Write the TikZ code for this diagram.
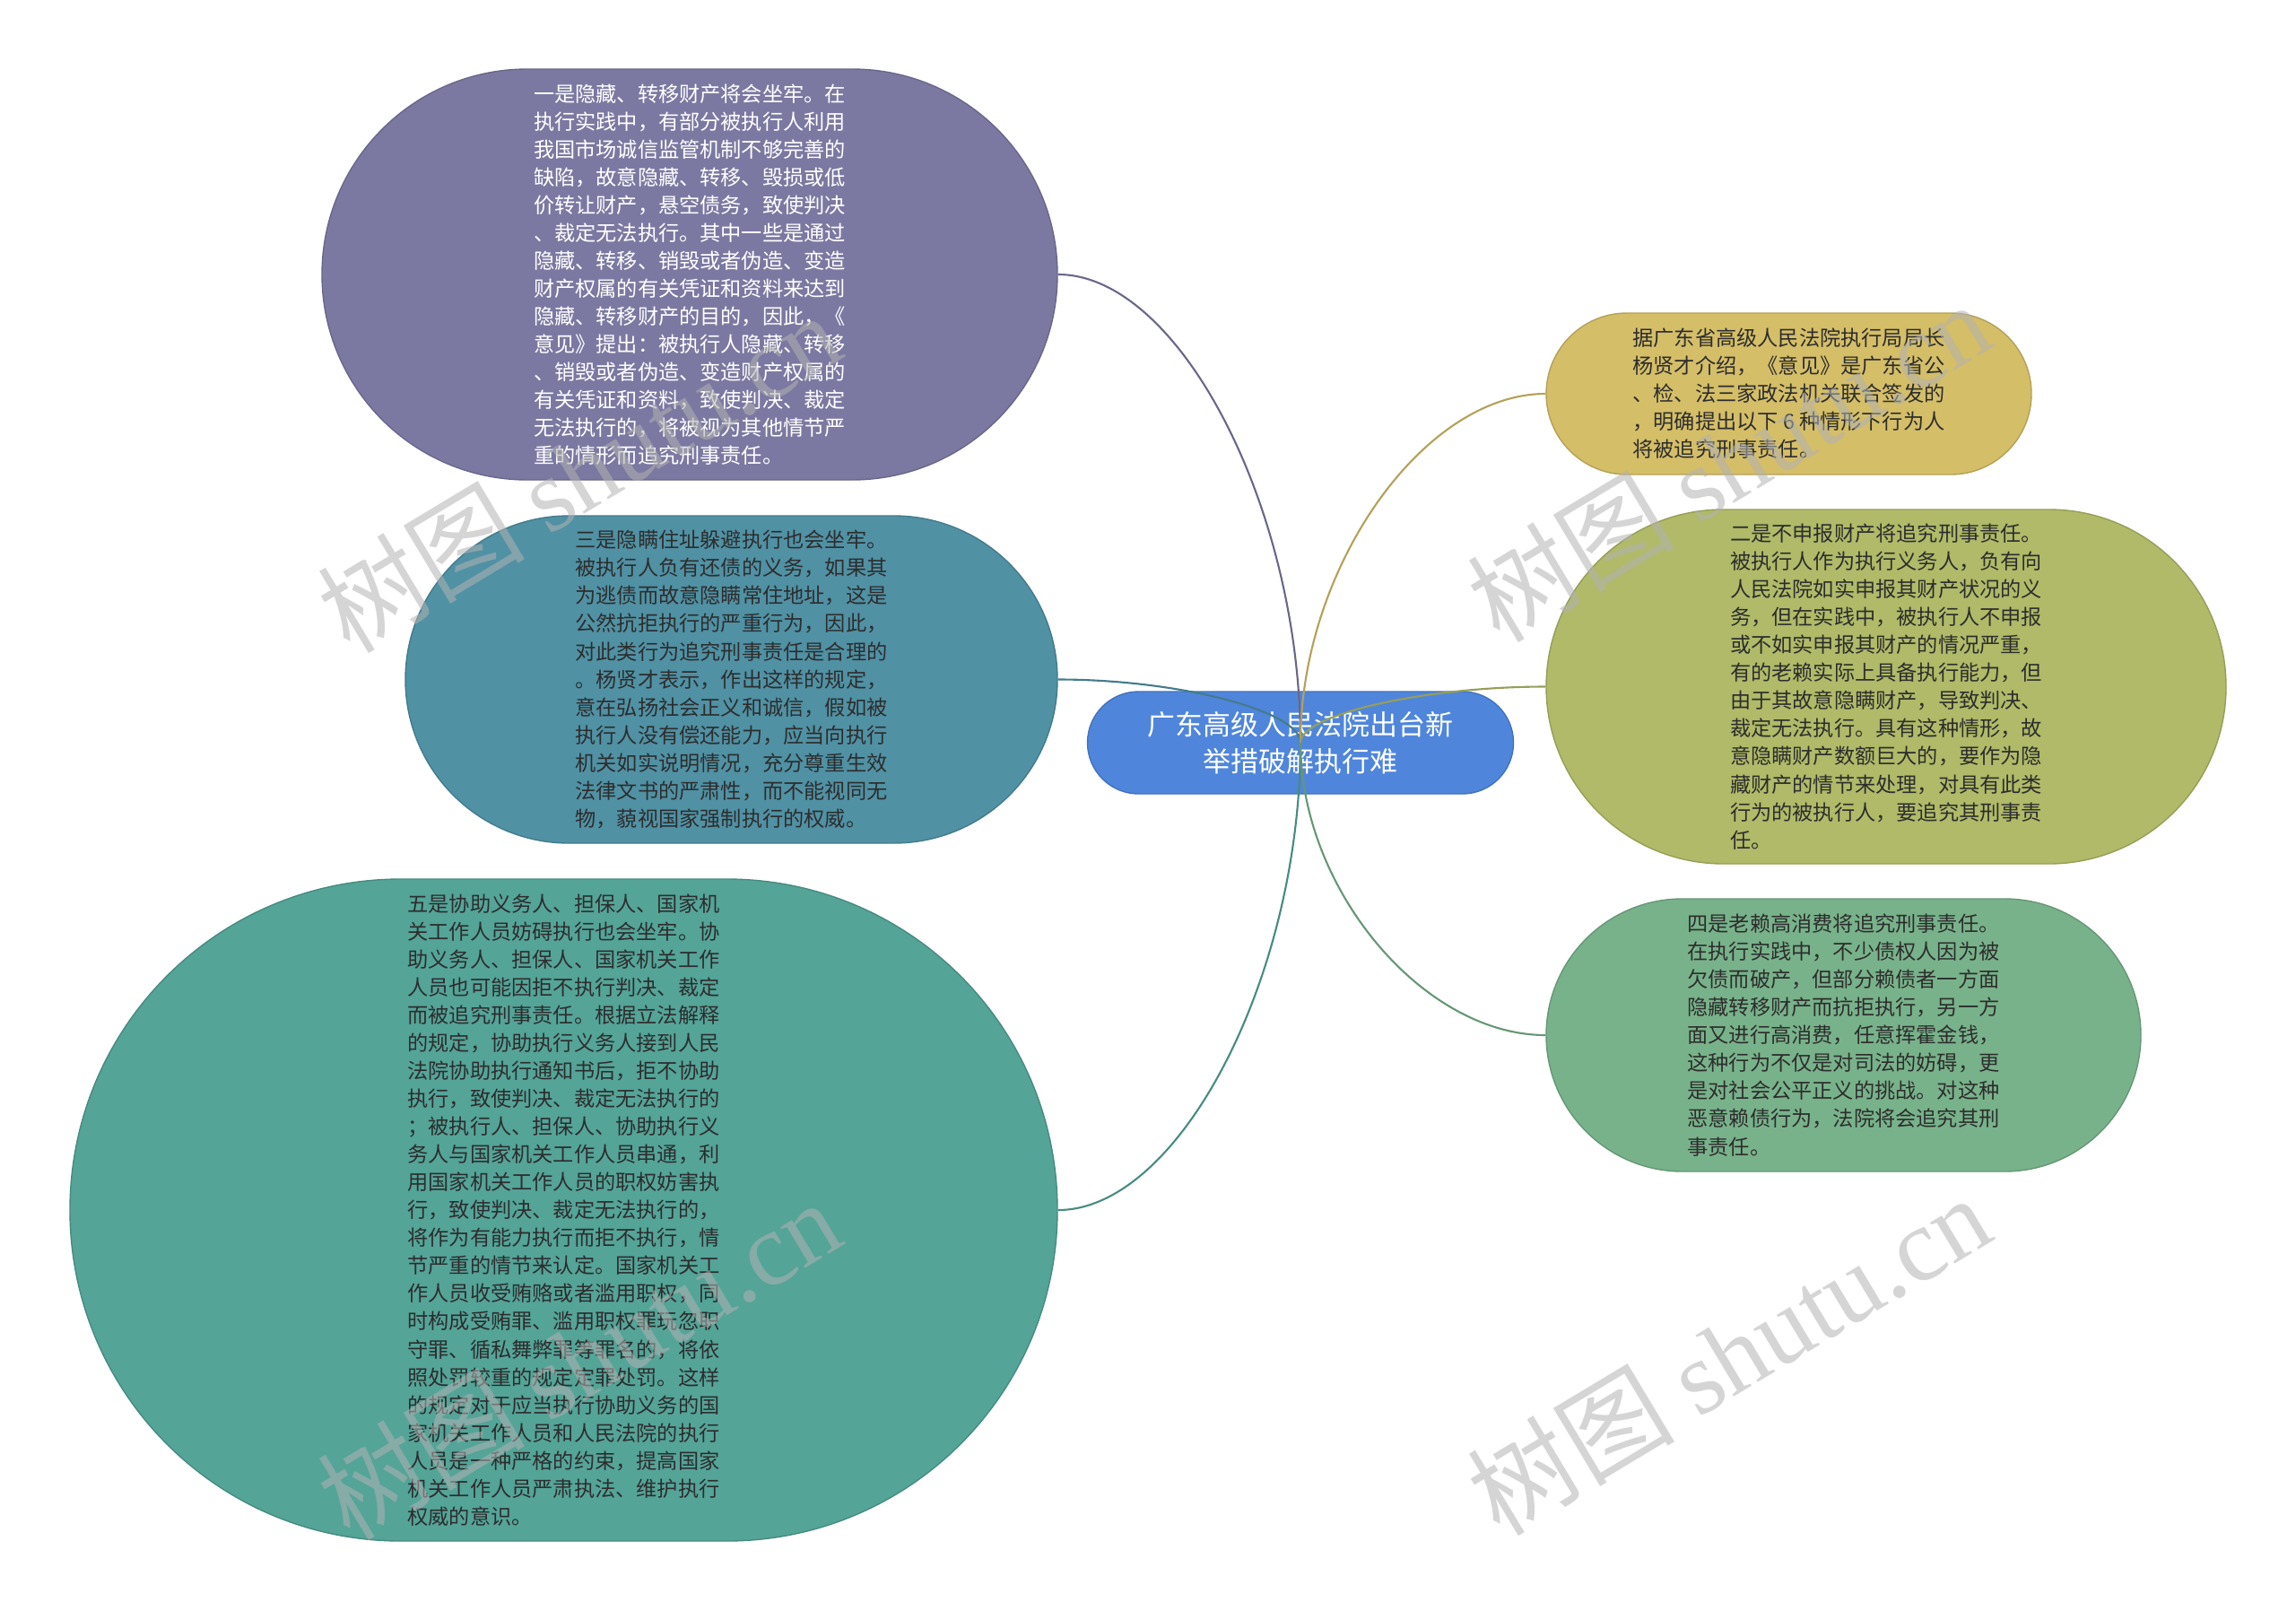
\documentclass[tikz,border=0pt]{standalone}
\usepackage{fontspec}
\setmainfont{Noto Sans CJK SC}
\newfontfamily\markfont{Liberation Serif}
\usetikzlibrary{
  shapes.misc,
  calc}
\definecolor{topiccolor}{RGB}{79,134,219}
\definecolor{introcolor}{RGB}{212,190,104}
\definecolor{onecolor}{RGB}{123,121,161}
\definecolor{twocolor}{RGB}{176,186,104}
\definecolor{threecolor}{RGB}{80,145,164}
\definecolor{fourcolor}{RGB}{120,178,138}
\definecolor{fivecolor}{RGB}{84,164,152}
\definecolor{darktext}{RGB}{45,45,45}
\tikzset{
  %% topic : the central topic
  topic/.style={
    rounded rectangle,
    fill=topiccolor,
    draw=topiccolor!85!black,
    text=white,
    font=\fontsize{8.8pt}{11.6pt}\selectfont,
    inner sep=0pt,
    align=center
  },
  %% subtopic : one bubble of text round the topic
  subtopic/.style={
    rounded rectangle,
    fill=#1,
    draw=#1!85!black,
    text=darktext,
    font=\fontsize{6.6pt}{8.83pt}\selectfont,
    inner sep=0pt,
    align=left
  },
  %% branch : curve from the topic to a subtopic
  branch/.style={#1!85!black, line width=0.6pt},
  %% watermark : the grey site mark
  watermark/.style={
    rotate=31,
    text=black!30,
    text opacity=0.55,
    font=\fontsize{33pt}{36pt}\selectfont
  }
}

\begin{document}
\begin{tikzpicture}
  [x=1cm,
  y=-1cm]

  \useasboundingbox (0, 0) rectangle (25.6, 17.95);

  %% Left side
  \node (point1) [subtopic=onecolor, text=white, minimum width=8.2cm,
  minimum height=4.58cm] at (7.69, 3.06) {%
    一是隐藏、转移财产将会坐牢。在\\
    执行实践中，有部分被执行人利用\\
    我国市场诚信监管机制不够完善的\\
    缺陷，故意隐藏、转移、毁损或低\\
    价转让财产，悬空债务，致使判决\\
    、裁定无法执行。其中一些是通过\\
    隐藏、转移、销毁或者伪造、变造\\
    财产权属的有关凭证和资料来达到\\
    隐藏、转移财产的目的，因此，《\\
    意见》提出：被执行人隐藏、转移\\
    、销毁或者伪造、变造财产权属的\\
    有关凭证和资料，致使判决、裁定\\
    无法执行的，将被视为其他情节严\\
    重的情形而追究刑事责任。
  };

  \node (point3) [subtopic=threecolor, minimum width=7.27cm,
  minimum height=3.65cm] at (8.155, 7.575) {%
    三是隐瞒住址躲避执行也会坐牢。\\
    被执行人负有还债的义务，如果其\\
    为逃债而故意隐瞒常住地址，这是\\
    公然抗拒执行的严重行为，因此，\\
    对此类行为追究刑事责任是合理的\\
    。杨贤才表示，作出这样的规定，\\
    意在弘扬社会正义和诚信，假如被\\
    执行人没有偿还能力，应当向执行\\
    机关如实说明情况，充分尊重生效\\
    法律文书的严肃性，而不能视同无\\
    物，藐视国家强制执行的权威。
  };

  \node (point5) [subtopic=fivecolor, minimum width=11.01cm,
  minimum height=7.38cm] at (6.285, 13.49) {%
    五是协助义务人、担保人、国家机\\
    关工作人员妨碍执行也会坐牢。协\\
    助义务人、担保人、国家机关工作\\
    人员也可能因拒不执行判决、裁定\\
    而被追究刑事责任。根据立法解释\\
    的规定，协助执行义务人接到人民\\
    法院协助执行通知书后，拒不协助\\
    执行，致使判决、裁定无法执行的\\
    ；被执行人、担保人、协助执行义\\
    务人与国家机关工作人员串通，利\\
    用国家机关工作人员的职权妨害执\\
    行，致使判决、裁定无法执行的，\\
    将作为有能力执行而拒不执行，情\\
    节严重的情节来认定。国家机关工\\
    作人员收受贿赂或者滥用职权，同\\
    时构成受贿罪、滥用职权罪玩忽职\\
    守罪、循私舞弊罪等罪名的，将依\\
    照处罚较重的规定定罪处罚。这样\\
    的规定对于应当执行协助义务的国\\
    家机关工作人员和人民法院的执行\\
    人员是一种严格的约束，提高国家\\
    机关工作人员严肃执法、维护执行\\
    权威的意识。
  };

  %% Right side
  \node (intro) [subtopic=introcolor, minimum width=5.41cm,
  minimum height=1.8cm] at (19.945, 4.39) {%
    据广东省高级人民法院执行局局长\\
    杨贤才介绍，《意见》是广东省公\\
    、检、法三家政法机关联合签发的\\
    ，明确提出以下 6 种情形下行为人\\
    将被追究刑事责任。
  };

  \node (point2) [subtopic=twocolor, minimum width=7.58cm,
  minimum height=3.95cm] at (21.03, 7.655) {%
    二是不申报财产将追究刑事责任。\\
    被执行人作为执行义务人，负有向\\
    人民法院如实申报其财产状况的义\\
    务，但在实践中，被执行人不申报\\
    或不如实申报其财产的情况严重，\\
    有的老赖实际上具备执行能力，但\\
    由于其故意隐瞒财产，导致判决、\\
    裁定无法执行。具有这种情形，故\\
    意隐瞒财产数额巨大的，要作为隐\\
    藏财产的情节来处理，对具有此类\\
    行为的被执行人，要追究其刑事责\\
    任。
  };

  \node (point4) [subtopic=fourcolor, minimum width=6.63cm,
  minimum height=3.04cm] at (20.555, 11.54) {%
    四是老赖高消费将追究刑事责任。\\
    在执行实践中，不少债权人因为被\\
    欠债而破产，但部分赖债者一方面\\
    隐藏转移财产而抗拒执行，另一方\\
    面又进行高消费，任意挥霍金钱，\\
    这种行为不仅是对司法的妨碍，更\\
    是对社会公平正义的挑战。对这种\\
    恶意赖债行为，法院将会追究其刑\\
    事责任。
  };

  %% Central topic
  \node (topic) [topic, minimum width=4.75cm, minimum height=1.14cm]
  at (14.5, 8.28) {%
    广东高级人民法院出台新\\
    举措破解执行难
  };

  %% Connections
  \draw [branch=onecolor] (topic.center)
  .. controls ($(topic.center)!0.5!(topic.center|-point1.east)$)
  and ($(point1.east)!0.5!(point1.east-|topic.center)$) .. (point1.east);
  \draw [branch=threecolor] (topic.center)
  .. controls ($(topic.center)!0.5!(topic.center|-point3.east)$)
  and ($(point3.east)!0.5!(point3.east-|topic.center)$) .. (point3.east);
  \draw [branch=fivecolor] (topic.center)
  .. controls ($(topic.center)!0.5!(topic.center|-point5.east)$)
  and ($(point5.east)!0.5!(point5.east-|topic.center)$) .. (point5.east);
  \draw [branch=introcolor] (topic.center)
  .. controls ($(topic.center)!0.5!(topic.center|-intro.west)$)
  and ($(intro.west)!0.5!(intro.west-|topic.center)$) .. (intro.west);
  \draw [branch=twocolor] (topic.center)
  .. controls ($(topic.center)!0.5!(topic.center|-point2.west)$)
  and ($(point2.west)!0.5!(point2.west-|topic.center)$) .. (point2.west);
  \draw [branch=fourcolor] (topic.center)
  .. controls ($(topic.center)!0.5!(topic.center|-point4.west)$)
  and ($(point4.west)!0.5!(point4.west-|topic.center)$) .. (point4.west);

  %% Site marks
  \node (mark1) [watermark] at (6.45, 5.26) {树图 {\markfont shutu.cn}};
  \node (mark2) [watermark] at (19.27, 5.14) {树图 {\markfont shutu.cn}};
  \node (mark3) [watermark] at (6.45, 15.15) {树图 {\markfont shutu.cn}};
  \node (mark4) [watermark] at (19.27, 15.1) {树图 {\markfont shutu.cn}};

\end{tikzpicture}
\end{document}
